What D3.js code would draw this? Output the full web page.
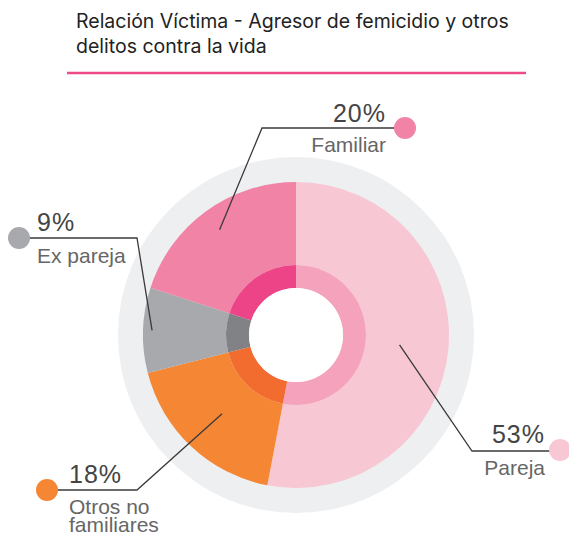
<!DOCTYPE html>
<html><head><meta charset="utf-8">
<script src="https://cdn.jsdelivr.net/npm/d3@7"></script>
<style>
html,body{margin:0;padding:0;background:#fff;}
svg{display:block;}
</style></head>
<body>
<svg id="chart" width="569" height="534"></svg>
<script>
const categories = ["Pareja", "Otros no familiares", "Ex pareja", "Familiar"];
const values = [53, 18, 9, 20];
const outerColors = ["#F8C7D4", "#F58634", "#A7A9AC", "#F083A6"];
const innerColors = ["#F5A3BC", "#F26B2F", "#808285", "#ED4488"];
const labelLines = [["Pareja"], ["Otros no", "familiares"], ["Ex pareja"], ["Familiar"]];

const svg = d3.select("#chart");
const cx = 296, cy = 335;
const rHole = 47, rInner = 70, rPie = 153, rRing = 178;

// title
const title = svg.append("g").attr("font-family", "Inter, 'Open Sans', sans-serif").attr("fill", "#222").attr("font-size", 19.5);
title.append("text").attr("x", 76).attr("y", 28).text("Relación Víctima - Agresor de femicidio y otros");
title.append("text").attr("x", 76).attr("y", 53).text("delitos contra la vida");
svg.append("line").attr("x1", 67).attr("x2", 526).attr("y1", 73).attr("y2", 73)
  .attr("stroke", "#EE4A8A").attr("stroke-width", 2.5);

const g = svg.append("g").attr("transform", `translate(${cx},${cy})`);

// background ring
g.append("circle").attr("r", rRing).attr("fill", "#EEEFF1");

const pie = d3.pie().sort(null).value(d => d)(values);
const arcOuter = d3.arc().innerRadius(rInner).outerRadius(rPie);
const arcInner = d3.arc().innerRadius(rHole).outerRadius(rInner);

g.selectAll("path.outer").data(pie).join("path").attr("class", "outer")
  .attr("d", arcOuter).attr("fill", (d, i) => outerColors[i]);
g.selectAll("path.inner").data(pie).join("path").attr("class", "inner")
  .attr("d", arcInner).attr("fill", (d, i) => innerColors[i]);
g.append("circle").attr("r", rHole).attr("fill", "#fff");

// labels layout
const labelLayout = [
  {elbow: [472, 451], rEnd: 104, lineEnd: 560, dot: [560, 450], anchor: "end", tx: 545, pctY: 443, lblY: 475},
  {elbow: [137, 490], rEnd: 108, lineEnd: 47, dot: [47, 490], anchor: "start", tx: 69, pctY: 483, lblY: 514},
  {elbow: [137, 238], rEnd: 144, lineEnd: 19, dot: [19, 238], anchor: "start", tx: 37, pctY: 231, lblY: 263},
  {elbow: [262, 128], rEnd: 130, lineEnd: 405, dot: [405, 128], anchor: "end", tx: 386, pctY: 122, lblY: 152}
];

const lab = svg.append("g").attr("font-family", "'Liberation Sans', Arial, sans-serif");
pie.forEach((d, i) => {
  const L = labelLayout[i];
  const a = (d.startAngle + d.endAngle) / 2;
  const ex = cx + L.rEnd * Math.sin(a), ey = cy - L.rEnd * Math.cos(a);
  lab.append("polyline")
    .attr("points", `${ex},${ey} ${L.elbow[0]},${L.elbow[1]} ${L.lineEnd},${L.elbow[1]}`)
    .attr("fill", "none").attr("stroke", "#3a3a3c").attr("stroke-width", 1.3);
  lab.append("circle").attr("cx", L.dot[0]).attr("cy", L.dot[1]).attr("r", 11).attr("fill", outerColors[i]);
  lab.append("text").attr("x", L.tx).attr("y", L.pctY).attr("text-anchor", L.anchor)
    .attr("font-size", 25).attr("fill", "#444").attr("letter-spacing", 1).text(values[i] + "%");
  labelLines[i].forEach((t, k) => {
    lab.append("text").attr("x", L.tx).attr("y", L.lblY + k * 18).attr("text-anchor", L.anchor)
      .attr("font-size", 21).attr("fill", "#666").text(t);
  });
});
</script>
</body></html>
